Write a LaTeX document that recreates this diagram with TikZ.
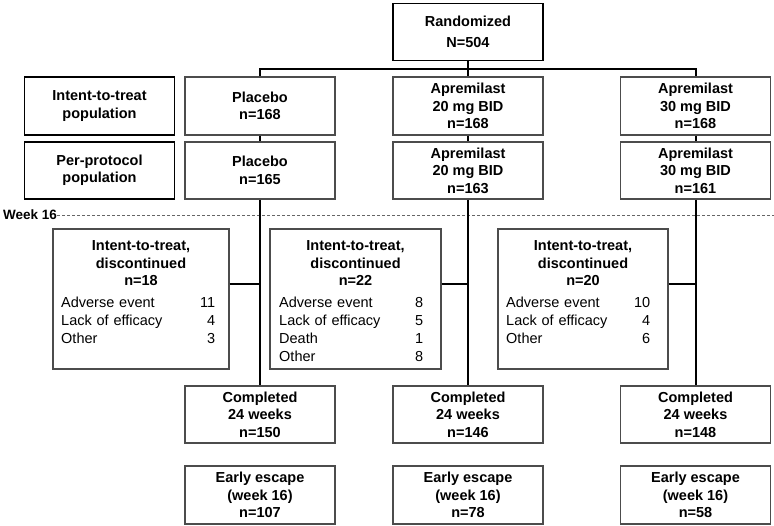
\documentclass[tikz,border=0pt]{standalone}
\usepackage{fontspec}
\setmainfont{Liberation Sans}
\usetikzlibrary{positioning}

\begin{document}
\begin{tikzpicture}[x=1pt,y=-1pt,
        box/.style={draw=black!70,line width=1.1pt,minimum width=150pt,
            minimum height=57pt,inner sep=0pt,align=center,
            font=\fontsize{14.5}{17.5}\selectfont\bfseries},
        lbox/.style={box,draw=black,line width=1.5pt},
        dbox/.style={draw=black!70,line width=1.1pt,minimum height=140pt,
            inner sep=0pt},
        dtitle/.style={inner sep=0pt,align=center,
            font=\fontsize{14.5}{17.5}\selectfont\bfseries},
        dlist/.style={inner sep=0pt,align=left,anchor=north west,
            font=\fontsize{14.5}{18}\selectfont},
        link/.style={line width=2pt}]

\useasboundingbox (0,0) rectangle (774,526);

% top
\node[lbox] (rand) at (468,32) {Randomized\\[3pt]N=504};
\coordinate (split) at (468,69.5);

% populations
\node[lbox,minimum height=58pt] (itt) at (99.5,106) {Intent-to-treat\\population};
\node[lbox] (pp) at (99.5,170.5) {Per-protocol\\population};

\node[box,minimum height=58pt] (pla1) at (260,106) {Placebo\\n=168};
\node[box,minimum height=58pt] (a20a) at (468,106) {Apremilast\\20 mg BID\\n=168};
\node[box,minimum height=58pt] (a30a) at (695.5,106) {Apremilast\\30 mg BID\\n=168};

\node[box] (pla2) at (260,170.5) {Placebo\\n=165};
\node[box] (a20b) at (468,170.5) {Apremilast\\20 mg BID\\n=163};
\node[box] (a30b) at (695.5,170.5) {Apremilast\\30 mg BID\\n=161};

% week 16
\node[inner sep=0pt,anchor=west,font=\fontsize{13.5}{16}\selectfont\bfseries]
    (wk) at (3,215) {Week 16};
\coordinate (wkend) at (774,215);
\draw[black!60,line width=0.7pt,dash pattern=on 3pt off 2pt] (wk.east) -- (wkend);

% discontinued
\node[dbox,minimum width=176pt] (d1) at (141,299) {};
\node[dbox,minimum width=171pt] (d2) at (355.5,299) {};
\node[dbox,minimum width=170pt] (d3) at (583,299) {};

\node[dtitle,below=12pt of d1.north] (t1) {Intent-to-treat,\\discontinued\\n=18};
\node[dtitle,below=12pt of d2.north] (t2) {Intent-to-treat,\\discontinued\\n=22};
\node[dtitle,below=12pt of d3.north] (t3) {Intent-to-treat,\\discontinued\\n=20};

\node[dlist,text width=154pt] (l1) at (61,297)
    {Adverse event\hfill 11\\Lack of efficacy\hfill 4\\Other\hfill 3};
\node[dlist,text width=144pt] (l2) at (279,297)
    {Adverse event\hfill 8\\Lack of efficacy\hfill 5\\Death\hfill 1\\Other\hfill 8};
\node[dlist,text width=144pt] (l3) at (506,297)
    {Adverse event\hfill 10\\Lack of efficacy\hfill 4\\Other\hfill 6};

% completed and early escape
\node[box] (pla3) at (260,414.5) {Completed\\24 weeks\\n=150};
\node[box] (a20c) at (468,414.5) {Completed\\24 weeks\\n=146};
\node[box] (a30c) at (695.5,414.5) {Completed\\24 weeks\\n=148};

\node[box,minimum height=58pt] (pla4) at (260,495) {Early escape\\(week 16)\\n=107};
\node[box,minimum height=58pt] (a20d) at (468,495) {Early escape\\(week 16)\\n=78};
\node[box,minimum height=58pt] (a30d) at (695.5,495) {Early escape\\(week 16)\\n=58};

% connectors
\draw[link] (rand.south) -- (split);
\draw[link] (pla1.north) |- (split) -| (a30a.north);
\draw[link] (split) -- (a20a.north);

\draw[link] (pla1.south) -- (pla2.north);
\draw[link] (a20a.south) -- (a20b.north);
\draw[link] (a30a.south) -- (a30b.north);

\draw[link] (pla2.south) -- (pla3.north);
\draw[link] (a20b.south) -- (a20c.north);
\draw[link] (a30b.south) -- (a30c.north);

\draw[link] ([yshift=15pt]d1.east) -- ([yshift=15pt]d1.east -| pla2.south);
\draw[link] ([yshift=15pt]d2.east) -- ([yshift=15pt]d2.east -| a20b.south);
\draw[link] ([yshift=15pt]d3.east) -- ([yshift=15pt]d3.east -| a30b.south);
\end{tikzpicture}
\end{document}
